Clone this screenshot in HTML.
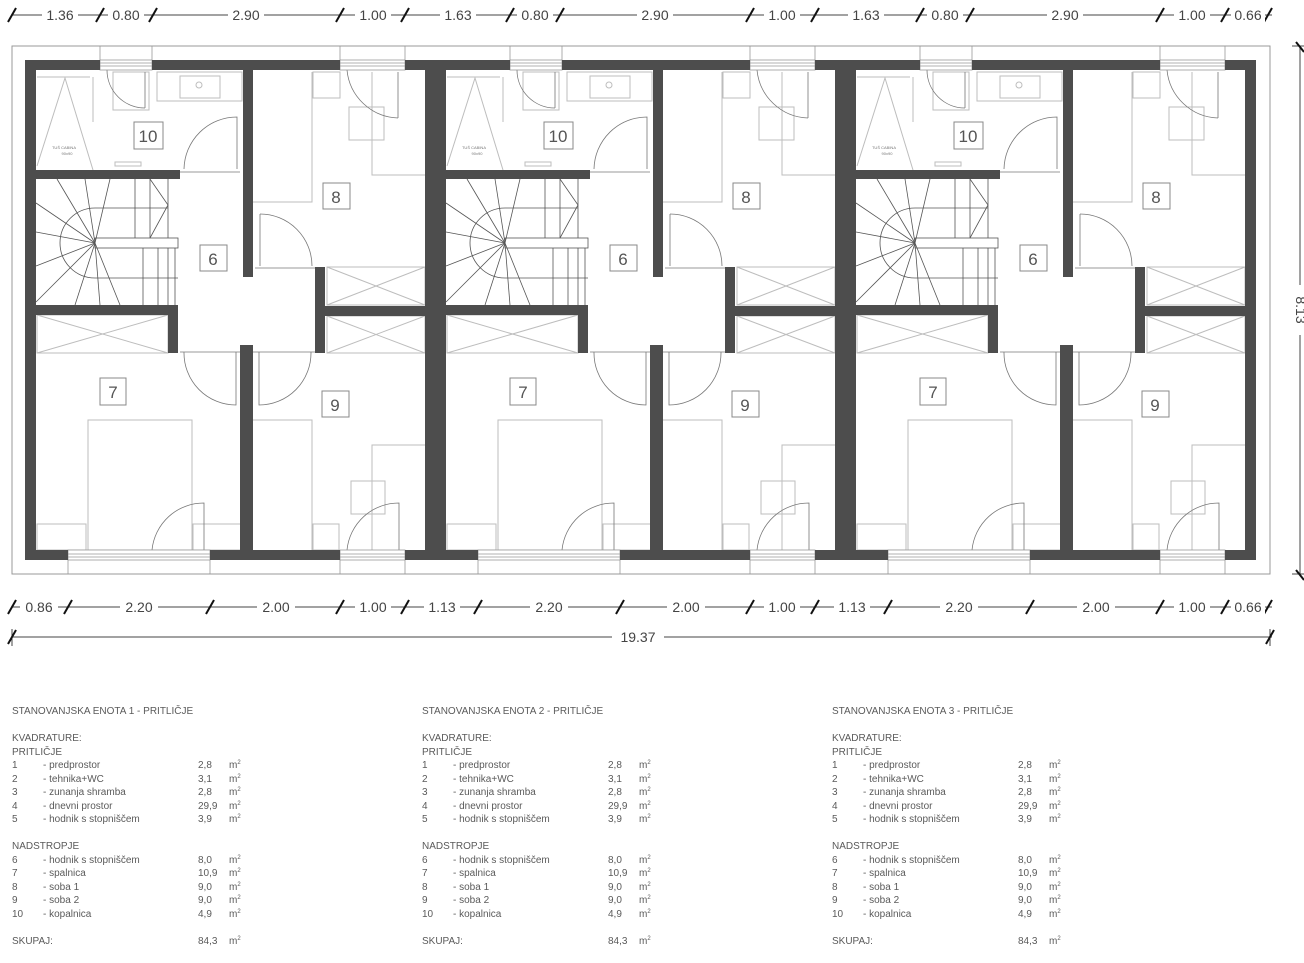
<!DOCTYPE html>
<html><head><meta charset="utf-8">
<style>
html,body{margin:0;padding:0;background:#fff;}
body{width:1304px;height:963px;position:relative;overflow:hidden;font-family:"Liberation Sans",sans-serif;}
svg{position:absolute;left:0;top:0;}
.tb{position:absolute;font-size:10px;color:#5a5a5a;line-height:13.5px;}
.tb div{position:relative;height:13.5px;white-space:nowrap;}
.tb span{position:absolute;top:0;}
.tb sup{font-size:6px;vertical-align:top;line-height:8px;}
</style></head><body>
<svg width="1304" height="963" viewBox="0 0 1304 963" xmlns="http://www.w3.org/2000/svg">
<defs>
<g id="u">
 <g fill="none" stroke="#bdbdbd" stroke-width="1">
  <polyline points="37,77 90,77"/>
  <line x1="93" y1="77" x2="93" y2="122"/>
  <polyline points="37,166 65,78 93,170"/>
  <rect x="113" y="72" width="36" height="38"/>
  <rect x="157" y="72" width="85" height="29"/>
  <rect x="180" y="76" width="40" height="22"/>
  <circle cx="199" cy="85" r="3"/>
  <rect x="115" y="162" width="26" height="4"/>
  <polyline points="253,202 312,202 312,72"/>
  <rect x="313" y="72" width="27" height="26"/>
  <rect x="349" y="107" width="35" height="33"/>
  <polyline points="372,72 372,175 425,175"/>
  <rect x="327" y="267" width="98" height="38"/><polyline points="327,267 425,305"/><polyline points="327,305 425,267"/>
  <rect x="327" y="316" width="98" height="37"/><polyline points="327,316 425,353"/><polyline points="327,353 425,316"/>
  <rect x="37" y="315" width="131" height="38"/><polyline points="37,315 168,353"/><polyline points="37,353 168,315"/>
  <rect x="88" y="420" width="104" height="130"/>
  <rect x="37" y="524" width="49" height="26"/>
  <rect x="193" y="524" width="48" height="26"/>
  <polyline points="253,420 312,420 312,550"/>
  <rect x="313" y="524" width="26" height="26"/>
  <rect x="351" y="481" width="34" height="33"/>
  <polyline points="372,550 372,445 425,445"/>
 </g>
 <g fill="none" stroke="#555" stroke-width="0.8">
  <line x1="168" y1="179" x2="168" y2="238"/>
  <rect x="95" y="238" width="83" height="10"/>
  <line x1="175" y1="248" x2="175" y2="305"/>
  <path d="M95,208 L168,208 M95,278 L178,278 M95,208 A35,35 0 0 0 95,278"/>
  <line x1="95" y1="243" x2="57" y2="179"/>
  <line x1="95" y1="243" x2="85" y2="179"/>
  <line x1="95" y1="243" x2="110" y2="179"/>
  <line x1="95" y1="243" x2="36" y2="203"/>
  <line x1="95" y1="243" x2="36" y2="232"/>
  <line x1="95" y1="243" x2="36" y2="266"/>
  <line x1="95" y1="243" x2="36" y2="302"/>
  <line x1="95" y1="243" x2="75" y2="305"/>
  <line x1="95" y1="243" x2="100" y2="305"/>
  <line x1="95" y1="243" x2="120" y2="305"/>
  <line x1="135" y1="179" x2="135" y2="238"/>
  <line x1="150" y1="179" x2="150" y2="238"/>
  <line x1="143" y1="248" x2="143" y2="305"/>
  <line x1="158" y1="248" x2="158" y2="305"/>
  <line x1="168" y1="248" x2="168" y2="305"/>
  <polyline points="150,179 168,205 150,238"/>
 </g>
 <g fill="none" stroke="#777" stroke-width="0.8">
  <path d="M107,70 A38,38 0 0 0 145,108"/>
  <line x1="145" y1="72" x2="145" y2="108"/>
  <path d="M184,169 A53,53 0 0 1 237,117 L237,169"/>
  <path d="M347,70 A53,53 0 0 0 398,118"/>
  <line x1="398" y1="72" x2="398" y2="118"/>
  <path d="M260,214 A52,52 0 0 1 312,266"/><line x1="260" y1="214" x2="260" y2="266"/>
  <path d="M184,352 A52,52 0 0 0 236,405 L236,352"/>
  <path d="M311,352 A52,52 0 0 1 259,405 L259,352"/>
  <path d="M152,550 A52,52 0 0 1 204,503 L204,550"/>
  <path d="M347,550 A52,52 0 0 1 399,503 L399,550"/>
  <line x1="180" y1="172" x2="240" y2="172"/><line x1="255" y1="268" x2="315" y2="268"/>
  <line x1="180" y1="352" x2="240" y2="352"/><line x1="253" y1="352" x2="315" y2="352"/>
 </g>
 <g fill="#fff" stroke="#999" stroke-width="0.8">
  <rect x="100" y="60" width="52" height="10"/><line x1="100" y1="63" x2="152" y2="63"/><line x1="100" y1="66" x2="152" y2="66"/>
  <rect x="340" y="60" width="65" height="10"/><line x1="340" y1="63" x2="405" y2="63"/><line x1="340" y1="66" x2="405" y2="66"/>
  <rect x="68" y="550" width="142" height="10"/><line x1="68" y1="554" x2="210" y2="554"/><line x1="68" y1="557" x2="210" y2="557"/>
  <rect x="340" y="550" width="65" height="10"/><line x1="340" y1="554" x2="405" y2="554"/><line x1="340" y1="557" x2="405" y2="557"/>
  <polyline fill="none" points="100,60 100,46 152,46 152,60"/>
  <polyline fill="none" points="340,60 340,46 405,46 405,60"/>
  <polyline fill="none" points="68,560 68,574 210,574 210,560"/>
  <polyline fill="none" points="340,560 340,574 405,574 405,560"/>
 </g>
 <g fill="#4d4d4d">
  <rect x="25" y="60" width="11" height="500"/>
  <rect x="425" y="60" width="11" height="500"/>
  <rect x="25" y="60" width="75" height="10"/>
  <rect x="152" y="60" width="188" height="10"/>
  <rect x="405" y="60" width="31" height="10"/>
  <rect x="25" y="550" width="43" height="10"/>
  <rect x="210" y="550" width="130" height="10"/>
  <rect x="405" y="550" width="31" height="10"/>
  <rect x="36" y="170" width="144" height="9"/>
  <rect x="243" y="70" width="10" height="207"/>
  <rect x="315" y="267" width="10" height="86"/>
  <rect x="325" y="306" width="100" height="10"/>
  <rect x="36" y="305" width="142" height="10"/>
  <rect x="168" y="305" width="10" height="48"/>
  <rect x="240" y="345" width="13" height="205"/>
 </g>
</g>
</defs>

<rect x="12" y="46" width="1258" height="528" fill="none" stroke="#999" stroke-width="1"/>
<use href="#u"/>
<use href="#u" transform="translate(410,0)"/>
<use href="#u" transform="translate(820,0)"/>

<g font-family="Liberation Sans, sans-serif" font-size="17" fill="#555" text-anchor="middle">
 <g fill="#fff" stroke="#888" stroke-width="1">
  <rect x="134" y="122" width="29" height="27"/><rect x="323" y="183" width="27" height="26"/><rect x="200" y="245" width="27" height="26"/><rect x="100" y="378" width="26" height="27"/><rect x="322" y="391" width="27" height="26"/>
  <rect x="544" y="122" width="29" height="27"/><rect x="733" y="183" width="27" height="26"/><rect x="610" y="245" width="27" height="26"/><rect x="510" y="378" width="26" height="27"/><rect x="732" y="391" width="27" height="26"/>
  <rect x="954" y="122" width="29" height="27"/><rect x="1143" y="183" width="27" height="26"/><rect x="1020" y="245" width="27" height="26"/><rect x="920" y="378" width="26" height="27"/><rect x="1142" y="391" width="27" height="26"/>
 </g>
 <text x="148" y="142">10</text><text x="336" y="203">8</text><text x="213" y="265">6</text><text x="113" y="398">7</text><text x="335" y="411">9</text>
 <text x="558" y="142">10</text><text x="746" y="203">8</text><text x="623" y="265">6</text><text x="523" y="398">7</text><text x="745" y="411">9</text>
 <text x="968" y="142">10</text><text x="1156" y="203">8</text><text x="1033" y="265">6</text><text x="933" y="398">7</text><text x="1155" y="411">9</text>
 <g font-size="4" fill="#777"><text x="64" y="149">TUŠ CABINA</text><text x="67" y="155">90x90</text>
 <text x="474" y="149">TUŠ CABINA</text><text x="477" y="155">90x90</text>
 <text x="884" y="149">TUŠ CABINA</text><text x="887" y="155">90x90</text></g>
</g>

<g stroke="#444" stroke-width="1" fill="none">
 <line x1="12" y1="15" x2="1272" y2="15"/>
 <line x1="12" y1="607" x2="1272" y2="607"/>
 <line x1="12" y1="637" x2="1272" y2="637"/>
 <line x1="1300" y1="46" x2="1300" y2="574"/>
 <line x1="1292" y1="46" x2="1304" y2="46"/><line x1="1292" y1="574" x2="1304" y2="574"/>
 <line x1="12" y1="629" x2="12" y2="646"/><line x1="1270" y1="629" x2="1270" y2="646"/>
</g>
<g stroke="#111" stroke-width="2">
 <line x1="8" y1="22" x2="16" y2="8"/><line x1="96" y1="22" x2="104" y2="8"/><line x1="149" y1="22" x2="157" y2="8"/><line x1="336" y1="22" x2="344" y2="8"/><line x1="401" y1="22" x2="409" y2="8"/><line x1="506" y1="22" x2="514" y2="8"/><line x1="556" y1="22" x2="564" y2="8"/><line x1="746" y1="22" x2="754" y2="8"/><line x1="811" y1="22" x2="819" y2="8"/><line x1="916" y1="22" x2="924" y2="8"/><line x1="966" y1="22" x2="974" y2="8"/><line x1="1156" y1="22" x2="1164" y2="8"/><line x1="1221" y1="22" x2="1229" y2="8"/><line x1="1264" y1="22" x2="1272" y2="8"/>
 <line x1="8" y1="614" x2="16" y2="600"/><line x1="64" y1="614" x2="72" y2="600"/><line x1="206" y1="614" x2="214" y2="600"/><line x1="336" y1="614" x2="344" y2="600"/><line x1="401" y1="614" x2="409" y2="600"/><line x1="474" y1="614" x2="482" y2="600"/><line x1="616" y1="614" x2="624" y2="600"/><line x1="746" y1="614" x2="754" y2="600"/><line x1="811" y1="614" x2="819" y2="600"/><line x1="884" y1="614" x2="892" y2="600"/><line x1="1026" y1="614" x2="1034" y2="600"/><line x1="1156" y1="614" x2="1164" y2="600"/><line x1="1221" y1="614" x2="1229" y2="600"/><line x1="1264" y1="614" x2="1272" y2="600"/>
 <line x1="8" y1="644" x2="16" y2="630"/><line x1="1266" y1="644" x2="1274" y2="630"/>
 <line x1="1296" y1="42" x2="1304" y2="52"/><line x1="1296" y1="570" x2="1304" y2="580"/>
</g>
<g font-family="Liberation Sans, sans-serif" font-size="14" fill="#444" text-anchor="middle">
 <g fill="#fff"><rect x="42" y="5" width="36" height="20"/><rect x="108" y="5" width="36" height="20"/><rect x="228" y="5" width="36" height="20"/><rect x="355" y="5" width="36" height="20"/><rect x="440" y="5" width="36" height="20"/><rect x="517" y="5" width="36" height="20"/><rect x="637" y="5" width="36" height="20"/><rect x="764" y="5" width="36" height="20"/><rect x="848" y="5" width="36" height="20"/><rect x="927" y="5" width="36" height="20"/><rect x="1047" y="5" width="36" height="20"/><rect x="1174" y="5" width="36" height="20"/><rect x="1231" y="5" width="34" height="20"/>
 <rect x="20" y="597" width="38" height="20"/><rect x="120" y="597" width="38" height="20"/><rect x="257" y="597" width="38" height="20"/><rect x="355" y="597" width="36" height="20"/><rect x="424" y="597" width="36" height="20"/><rect x="530" y="597" width="38" height="20"/><rect x="667" y="597" width="38" height="20"/><rect x="764" y="597" width="36" height="20"/><rect x="834" y="597" width="36" height="20"/><rect x="940" y="597" width="38" height="20"/><rect x="1077" y="597" width="38" height="20"/><rect x="1174" y="597" width="36" height="20"/><rect x="1231" y="597" width="34" height="20"/>
 <rect x="612" y="627" width="52" height="20"/><rect x="1292" y="285" width="16" height="50"/></g>
 <text x="60" y="20">1.36</text><text x="126" y="20">0.80</text><text x="246" y="20">2.90</text><text x="373" y="20">1.00</text><text x="458" y="20">1.63</text><text x="535" y="20">0.80</text><text x="655" y="20">2.90</text><text x="782" y="20">1.00</text><text x="866" y="20">1.63</text><text x="945" y="20">0.80</text><text x="1065" y="20">2.90</text><text x="1192" y="20">1.00</text><text x="1248" y="20">0.66</text>
 <text x="39" y="612">0.86</text><text x="139" y="612">2.20</text><text x="276" y="612">2.00</text><text x="373" y="612">1.00</text><text x="442" y="612">1.13</text><text x="549" y="612">2.20</text><text x="686" y="612">2.00</text><text x="782" y="612">1.00</text><text x="852" y="612">1.13</text><text x="959" y="612">2.20</text><text x="1096" y="612">2.00</text><text x="1192" y="612">1.00</text><text x="1248" y="612">0.66</text>
 <text x="638" y="642">19.37</text>
 <text x="310" y="-1296" transform="rotate(90)">8.13</text>
</g>
</svg>

<div class="tb" style="left:12px;top:705px;">
 <div>STANOVANJSKA ENOTA 1 - PRITLIČJE</div>
 <div></div>
 <div>KVADRATURE:</div>
 <div>PRITLIČJE</div>
 <div><span style="left:0">1</span><span style="left:31px">- predprostor</span><span style="left:186px">2,8</span><span style="left:217px">m<sup>2</sup></span></div>
 <div><span style="left:0">2</span><span style="left:31px">- tehnika+WC</span><span style="left:186px">3,1</span><span style="left:217px">m<sup>2</sup></span></div>
 <div><span style="left:0">3</span><span style="left:31px">- zunanja shramba</span><span style="left:186px">2,8</span><span style="left:217px">m<sup>2</sup></span></div>
 <div><span style="left:0">4</span><span style="left:31px">- dnevni prostor</span><span style="left:186px">29,9</span><span style="left:217px">m<sup>2</sup></span></div>
 <div><span style="left:0">5</span><span style="left:31px">- hodnik s stopniščem</span><span style="left:186px">3,9</span><span style="left:217px">m<sup>2</sup></span></div>
 <div></div>
 <div>NADSTROPJE</div>
 <div><span style="left:0">6</span><span style="left:31px">- hodnik s stopniščem</span><span style="left:186px">8,0</span><span style="left:217px">m<sup>2</sup></span></div>
 <div><span style="left:0">7</span><span style="left:31px">- spalnica</span><span style="left:186px">10,9</span><span style="left:217px">m<sup>2</sup></span></div>
 <div><span style="left:0">8</span><span style="left:31px">- soba 1</span><span style="left:186px">9,0</span><span style="left:217px">m<sup>2</sup></span></div>
 <div><span style="left:0">9</span><span style="left:31px">- soba 2</span><span style="left:186px">9,0</span><span style="left:217px">m<sup>2</sup></span></div>
 <div><span style="left:0">10</span><span style="left:31px">- kopalnica</span><span style="left:186px">4,9</span><span style="left:217px">m<sup>2</sup></span></div>
 <div></div>
 <div><span style="left:0">SKUPAJ:</span><span style="left:186px">84,3</span><span style="left:217px">m<sup>2</sup></span></div>
</div>
<div class="tb" style="left:422px;top:705px;">
 <div>STANOVANJSKA ENOTA 2 - PRITLIČJE</div>
 <div></div>
 <div>KVADRATURE:</div>
 <div>PRITLIČJE</div>
 <div><span style="left:0">1</span><span style="left:31px">- predprostor</span><span style="left:186px">2,8</span><span style="left:217px">m<sup>2</sup></span></div>
 <div><span style="left:0">2</span><span style="left:31px">- tehnika+WC</span><span style="left:186px">3,1</span><span style="left:217px">m<sup>2</sup></span></div>
 <div><span style="left:0">3</span><span style="left:31px">- zunanja shramba</span><span style="left:186px">2,8</span><span style="left:217px">m<sup>2</sup></span></div>
 <div><span style="left:0">4</span><span style="left:31px">- dnevni prostor</span><span style="left:186px">29,9</span><span style="left:217px">m<sup>2</sup></span></div>
 <div><span style="left:0">5</span><span style="left:31px">- hodnik s stopniščem</span><span style="left:186px">3,9</span><span style="left:217px">m<sup>2</sup></span></div>
 <div></div>
 <div>NADSTROPJE</div>
 <div><span style="left:0">6</span><span style="left:31px">- hodnik s stopniščem</span><span style="left:186px">8,0</span><span style="left:217px">m<sup>2</sup></span></div>
 <div><span style="left:0">7</span><span style="left:31px">- spalnica</span><span style="left:186px">10,9</span><span style="left:217px">m<sup>2</sup></span></div>
 <div><span style="left:0">8</span><span style="left:31px">- soba 1</span><span style="left:186px">9,0</span><span style="left:217px">m<sup>2</sup></span></div>
 <div><span style="left:0">9</span><span style="left:31px">- soba 2</span><span style="left:186px">9,0</span><span style="left:217px">m<sup>2</sup></span></div>
 <div><span style="left:0">10</span><span style="left:31px">- kopalnica</span><span style="left:186px">4,9</span><span style="left:217px">m<sup>2</sup></span></div>
 <div></div>
 <div><span style="left:0">SKUPAJ:</span><span style="left:186px">84,3</span><span style="left:217px">m<sup>2</sup></span></div>
</div>
<div class="tb" style="left:832px;top:705px;">
 <div>STANOVANJSKA ENOTA 3 - PRITLIČJE</div>
 <div></div>
 <div>KVADRATURE:</div>
 <div>PRITLIČJE</div>
 <div><span style="left:0">1</span><span style="left:31px">- predprostor</span><span style="left:186px">2,8</span><span style="left:217px">m<sup>2</sup></span></div>
 <div><span style="left:0">2</span><span style="left:31px">- tehnika+WC</span><span style="left:186px">3,1</span><span style="left:217px">m<sup>2</sup></span></div>
 <div><span style="left:0">3</span><span style="left:31px">- zunanja shramba</span><span style="left:186px">2,8</span><span style="left:217px">m<sup>2</sup></span></div>
 <div><span style="left:0">4</span><span style="left:31px">- dnevni prostor</span><span style="left:186px">29,9</span><span style="left:217px">m<sup>2</sup></span></div>
 <div><span style="left:0">5</span><span style="left:31px">- hodnik s stopniščem</span><span style="left:186px">3,9</span><span style="left:217px">m<sup>2</sup></span></div>
 <div></div>
 <div>NADSTROPJE</div>
 <div><span style="left:0">6</span><span style="left:31px">- hodnik s stopniščem</span><span style="left:186px">8,0</span><span style="left:217px">m<sup>2</sup></span></div>
 <div><span style="left:0">7</span><span style="left:31px">- spalnica</span><span style="left:186px">10,9</span><span style="left:217px">m<sup>2</sup></span></div>
 <div><span style="left:0">8</span><span style="left:31px">- soba 1</span><span style="left:186px">9,0</span><span style="left:217px">m<sup>2</sup></span></div>
 <div><span style="left:0">9</span><span style="left:31px">- soba 2</span><span style="left:186px">9,0</span><span style="left:217px">m<sup>2</sup></span></div>
 <div><span style="left:0">10</span><span style="left:31px">- kopalnica</span><span style="left:186px">4,9</span><span style="left:217px">m<sup>2</sup></span></div>
 <div></div>
 <div><span style="left:0">SKUPAJ:</span><span style="left:186px">84,3</span><span style="left:217px">m<sup>2</sup></span></div>
</div>
</body></html>
